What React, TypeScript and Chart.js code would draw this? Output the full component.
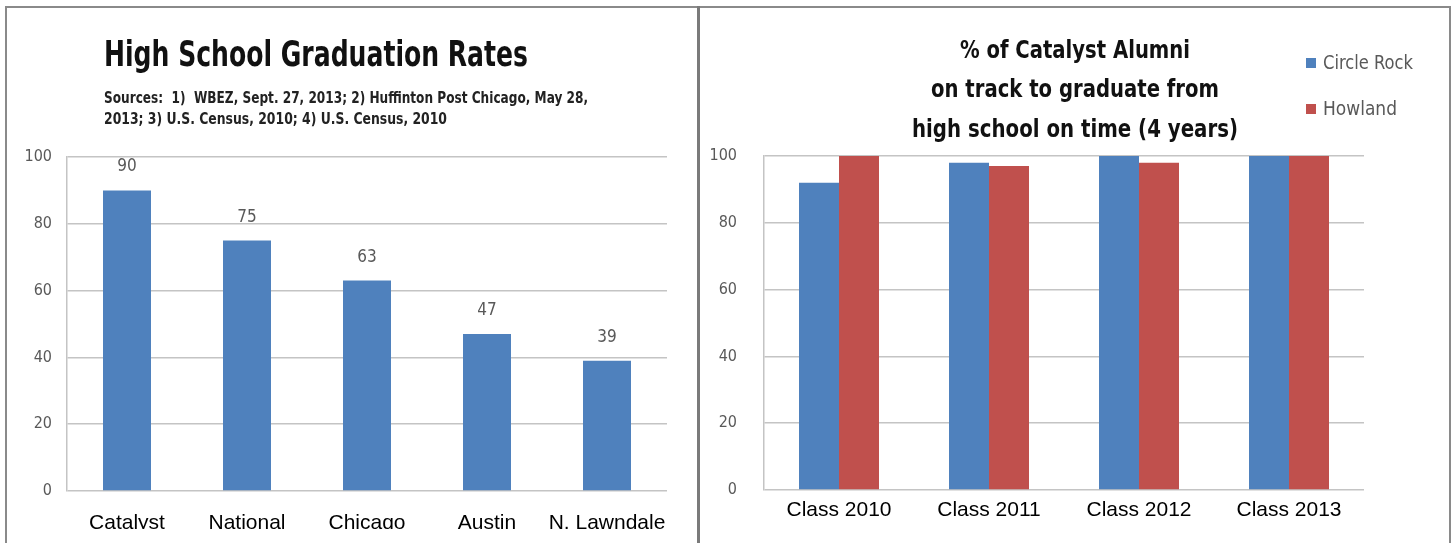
import React, { useEffect, useRef } from "react";
import { Chart, registerables } from "chart.js";

Chart.register(...registerables);

// ---------- data ----------
const gradCategories = ["Catalyst", "National", "Chicago", "Austin", "N. Lawndale"];
const gradRates = [90, 75, 63, 47, 39];

const classCategories = ["Class 2010", "Class 2011", "Class 2012", "Class 2013"];
const circleRock = [92, 98, 100, 100];
const howland = [100, 97, 98, 100];
const seriesNames = ["Circle Rock", "Howland"];

const yMin = 0;
const yMax = 100;
const yStep = 20;

const leftTitle = "High School Graduation Rates";
const leftSources = [
  "Sources:  1)  WBEZ, Sept. 27, 2013; 2) Huffinton Post Chicago, May 28,",
  "2013; 3) U.S. Census, 2010; 4) U.S. Census, 2010",
];
const rightTitle = ["% of Catalyst Alumni", "on track to graduate from", "high school on time (4 years)"];

// ---------- styles ----------
const BLUE = "#4F81BD";
const RED = "#C0504D";
const GRID = "#c4c4c4";
const TICK = "#595959";
const NARROW = "'Liberation Sans Narrow', 'Arial Narrow', 'DejaVu Sans Condensed', 'Liberation Sans', sans-serif";
const ARIAL = "'Liberation Sans', Arial, sans-serif";

type TextItem = { text: string; x: number; y: number; w: number; font: string; color: string; align: "left" | "center" };

function drawFitted(ctx: CanvasRenderingContext2D, t: TextItem) {
  ctx.save();
  ctx.font = t.font;
  ctx.fillStyle = t.color;
  ctx.textBaseline = "alphabetic";
  ctx.textAlign = "left";
  const mw = ctx.measureText(t.text).width || 1;
  const sx = t.w / mw;
  const left = t.align === "center" ? t.x - t.w / 2 : t.x;
  ctx.translate(left, t.y);
  ctx.scale(sx, 1);
  ctx.fillText(t.text, 0, 0);
  ctx.restore();
}

function textPlugin(id: string, items: TextItem[], boxes: { x: number; y: number; s: number; color: string }[] = []) {
  return {
    id,
    afterDraw(chart: any) {
      const ctx = chart.ctx as CanvasRenderingContext2D;
      boxes.forEach((b) => {
        ctx.save();
        ctx.fillStyle = b.color;
        ctx.fillRect(b.x, b.y, b.s, b.s);
        ctx.restore();
      });
      items.forEach((t) => drawFitted(ctx, t));
    },
  };
}

const valueLabelPlugin = {
  id: "valueLabels",
  afterDatasetsDraw(chart: any) {
    const ctx = chart.ctx as CanvasRenderingContext2D;
    const meta = chart.getDatasetMeta(0);
    const values = chart.data.datasets[0].data as number[];
    ctx.save();
    ctx.font = `17px ${NARROW}`;
    ctx.fillStyle = TICK;
    ctx.textAlign = "center";
    ctx.textBaseline = "alphabetic";
    meta.data.forEach((el: any, i: number) => {
      ctx.fillText(String(values[i]), el.x, el.y - 19);
    });
    ctx.restore();
  },
};

function yScale(width: number, pad: number) {
  return {
    min: yMin,
    max: yMax,
    ticks: { stepSize: yStep, color: TICK, padding: pad, font: { family: NARROW, size: 16 } },
    grid: { color: GRID, lineWidth: 1.5, drawTicks: false },
    border: { display: true, color: GRID, width: 1.5 },
    afterFit: (s: any) => {
      s.width = width;
    },
  };
}

function xScale(height: number, pad: number) {
  return {
    grid: { display: false, drawTicks: false },
    border: { display: false },
    ticks: { color: "#000", padding: pad, maxRotation: 0, autoSkip: false, font: { family: ARIAL, size: 21 } },
    afterFit: (s: any) => {
      s.height = height;
    },
  };
}

export default function App() {
  const leftRef = useRef<HTMLCanvasElement>(null);
  const rightRef = useRef<HTMLCanvasElement>(null);

  useEffect(() => {
    document.body.style.margin = "0";
    const left = new Chart(leftRef.current!, {
      type: "bar",
      data: {
        labels: gradCategories,
        datasets: [{ data: gradRates, backgroundColor: BLUE, borderWidth: 0, categoryPercentage: 1, barPercentage: 0.4 }],
      },
      options: {
        responsive: false,
        animation: false,
        layout: { padding: { left: 0, right: 30, top: 149, bottom: 7 } },
        plugins: { legend: { display: false }, tooltip: { enabled: false }, title: { display: false } },
        scales: { x: xScale(50, 20) as any, y: yScale(60, 15) as any },
      },
      plugins: [
        valueLabelPlugin,
        textPlugin("leftText", [
          { text: leftTitle, x: 97, y: 58, w: 424, font: `bold 35px ${NARROW}`, color: "#111", align: "left" },
          { text: leftSources[0], x: 97, y: 95, w: 484, font: `bold 16px ${NARROW}`, color: "#222", align: "left" },
          { text: leftSources[1], x: 97, y: 116, w: 343, font: `bold 16px ${NARROW}`, color: "#222", align: "left" },
        ]),
      ],
    });

    const right = new Chart(rightRef.current!, {
      type: "bar",
      data: {
        labels: classCategories,
        datasets: [
          { label: seriesNames[0], data: circleRock, backgroundColor: BLUE, borderWidth: 0, categoryPercentage: 0.5333, barPercentage: 1 },
          { label: seriesNames[1], data: howland, backgroundColor: RED, borderWidth: 0, categoryPercentage: 0.5333, barPercentage: 1 },
        ],
      },
      options: {
        responsive: false,
        animation: false,
        layout: { padding: { left: 0, right: 85, top: 148, bottom: 13 } },
        plugins: { legend: { display: false }, tooltip: { enabled: false }, title: { display: false } },
        scales: { x: xScale(40, 8) as any, y: yScale(64, 27) as any },
      },
      plugins: [
        textPlugin(
          "rightText",
          [
            { text: rightTitle[0], x: 375, y: 50, w: 230, font: `bold 25px ${NARROW}`, color: "#111", align: "center" },
            { text: rightTitle[1], x: 375, y: 89, w: 288, font: `bold 25px ${NARROW}`, color: "#111", align: "center" },
            { text: rightTitle[2], x: 375, y: 129, w: 326, font: `bold 25px ${NARROW}`, color: "#111", align: "center" },
            { text: seriesNames[0], x: 623, y: 61, w: 90, font: `20px ${NARROW}`, color: TICK, align: "left" },
            { text: seriesNames[1], x: 623, y: 107, w: 74, font: `20px ${NARROW}`, color: TICK, align: "left" },
          ],
          [
            { x: 606, y: 50, s: 10, color: BLUE },
            { x: 606, y: 96, s: 10, color: RED },
          ]
        ),
      ],
    });

    return () => {
      left.destroy();
      right.destroy();
    };
  }, []);

  const line = (l: number, t: number, w: number, h: number, c = "#8a8a8a") => (
    <div style={{ position: "absolute", left: l, top: t, width: w, height: h, background: c }} />
  );

  return (
    <div style={{ position: "relative", width: 1453, height: 543, overflow: "hidden", background: "#fff" }}>
      <div style={{ position: "absolute", left: 7, top: 8, width: 690, height: 521, overflow: "hidden" }}>
        <canvas ref={leftRef} width={690} height={540} style={{ display: "block" }} />
      </div>
      <div style={{ position: "absolute", left: 700, top: 8, width: 749, height: 535, overflow: "hidden" }}>
        <canvas ref={rightRef} width={749} height={535} style={{ display: "block" }} />
      </div>
      {line(5, 6, 1446, 2)}
      {line(5, 6, 2, 537)}
      {line(697, 6, 3, 537, "#7a7a7a")}
      {line(1449, 6, 2, 537)}
    </div>
  );
}
